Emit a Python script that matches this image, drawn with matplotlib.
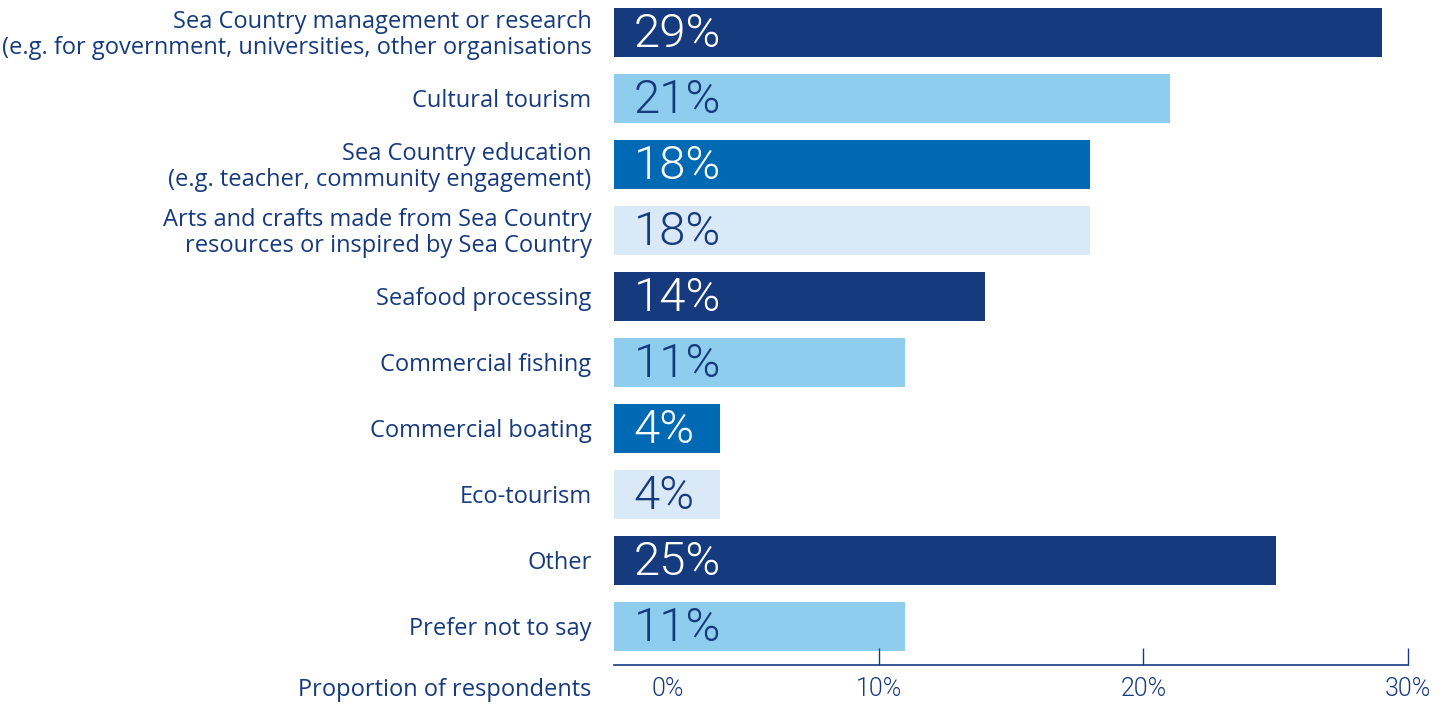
import matplotlib
matplotlib.use("Agg")
import matplotlib.pyplot as plt
import matplotlib.transforms as mtransforms

# survey categories and shares (percent)
categories = [
    "Sea Country management or research\n(e.g. for government, universities, other organisations",
    "Cultural tourism",
    "Sea Country education\n(e.g. teacher, community engagement)",
    "Arts and crafts made from Sea Country\nresources or inspired by Sea Country",
    "Seafood processing",
    "Commercial fishing",
    "Commercial boating",
    "Eco-tourism",
    "Other",
    "Prefer not to say",
]
values = [29, 21, 18, 18, 14, 11, 4, 4, 25, 11]
xticks = [0, 10, 20, 30]
xtick_labels = ["0%", "10%", "20%", "30%"]

navy = "#163a7e"
palette = ["#163a7e", "#8fcdee", "#0069b4", "#d9e9f7"]
text_on = {"#163a7e": "white", "#8fcdee": navy, "#0069b4": "white", "#d9e9f7": navy}

fig = plt.figure(figsize=(14.48, 7.05), dpi=100)
ax = fig.add_axes([614 / 1448, 40 / 705, (1408 - 614) / 1448, 665 / 705])

for i, (cat, v) in enumerate(zip(categories, values)):
    c = palette[i % 4]
    ax.barh(i, v, height=0.742, color=c, linewidth=0)
    ax.text(0.75, i + 0.03, f"{v}%", color=text_on[c], fontsize=34,
            family="Roboto", fontweight=300, va="center", ha="left")
    ax.text(-0.85, i + 0.04, cat, color=navy, fontsize=17, family="Open Sans",
            ha="right", va="center", linespacing=1.12)

ax.set_xlim(0, 30)
ax.set_ylim(9.583, -0.492)

for s in ["top", "right", "left"]:
    ax.spines[s].set_visible(False)
ax.spines["bottom"].set_color(navy)
ax.spines["bottom"].set_linewidth(1.2)

ax.set_yticks([])
ax.set_xticks(xticks)
ax.set_xticklabels(xtick_labels, family="Roboto", fontweight=300,
                   fontsize=18, color=navy)
ax.tick_params(axis="x", direction="in", length=12.5, width=1.0, color=navy, pad=9)

# first tick has no mark, its label sits a bit to the right
first = ax.xaxis.get_major_ticks()[0]
first.tick1line.set_visible(False)
first.label1.set_transform(first.label1.get_transform() +
                           mtransforms.ScaledTranslation(0.54, 0, fig.dpi_scale_trans))

lab = ax.text(-0.85, 15 / 705, "Proportion of respondents", color=navy, fontsize=17,
              family="Open Sans", ha="right", va="center",
              transform=mtransforms.blended_transform_factory(ax.transData, fig.transFigure))

fig.savefig("out.png", dpi=100)
